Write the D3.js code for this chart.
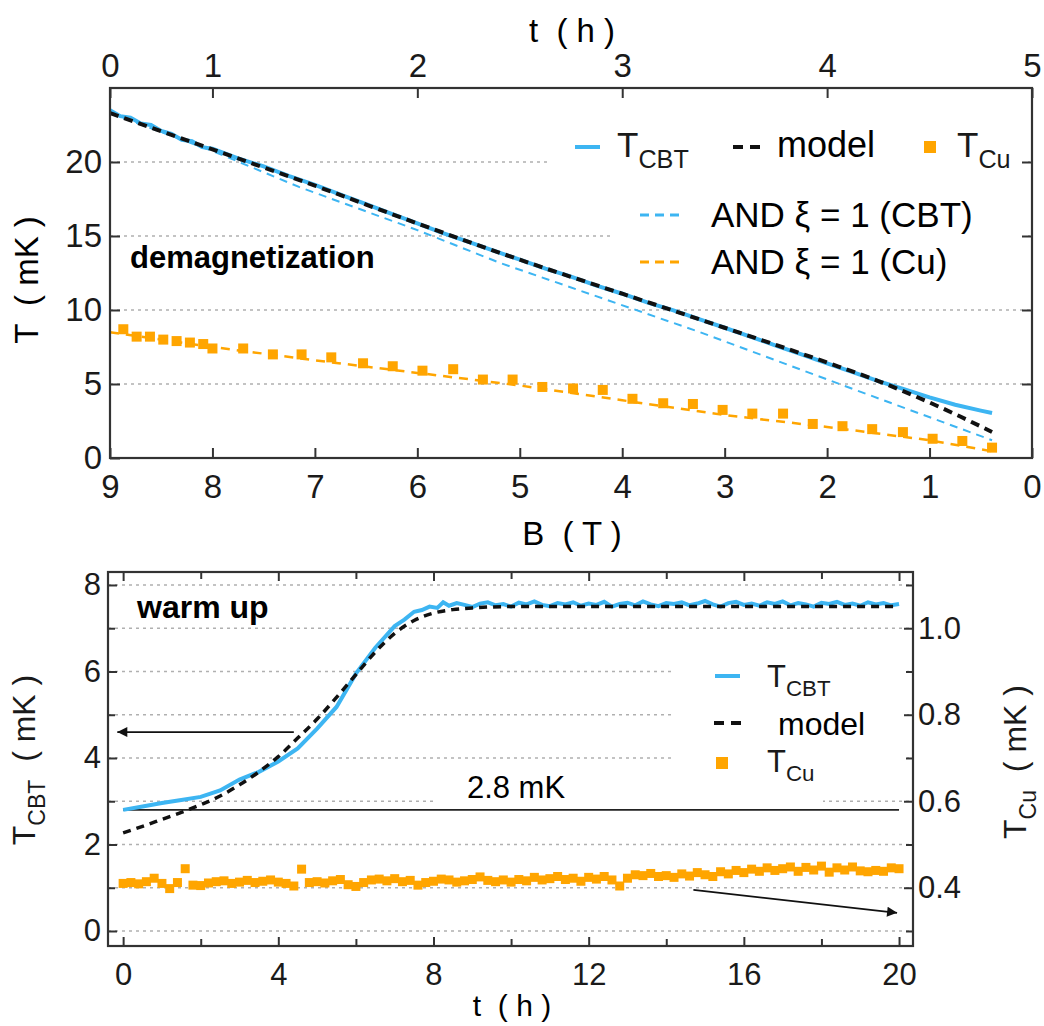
<!DOCTYPE html>
<meta charset="utf-8">
<style>
body { margin: 0; background: #fff; }
svg { font-family: "Liberation Sans", Arial, sans-serif; }
.grid { stroke: #b0b0b0; stroke-width: 1.6; stroke-dasharray: 3,4; }
.axis line { stroke: #333; stroke-width: 2; }
.axis text { fill: #1a1a1a; font-family: "Liberation Sans", Arial, sans-serif; }
.frame { fill: none; stroke: #333; stroke-width: 2.2; }
</style>
<body>
<script src="https://cdn.jsdelivr.net/npm/d3@7"></script>
<script>
//------------------------ DATA: demagnetization ------------------------//
// field ramp: hours -> field (T)
const rampHours = [0, 1, 5];
const rampField = [9, 8, 0];
const hourTicks = [0, 1, 2, 3, 4, 5];
const fieldTicks = [9, 8, 7, 6, 5, 4, 3, 2, 1, 0];
const tempTicks = [0, 5, 10, 15, 20];

const cbtField = [9.0, 8.9, 8.8, 8.7, 8.6, 8.5, 8.4, 8.3, 8.2, 8.1, 8.0, 7.75, 7.5, 7.25, 7.0, 6.75, 6.5, 6.25, 6.0, 5.75, 5.5, 5.25, 5.0, 4.75, 4.5, 4.25, 4.0, 3.75, 3.5, 3.25, 3.0, 2.75, 2.5, 2.25, 2.0, 1.75, 1.5, 1.25, 1.0, 0.75, 0.5, 0.39];
const cbtTemp  = [23.5, 23.1, 23.0, 22.6, 22.5, 22.1, 21.9, 21.5, 21.4, 21.0, 20.9, 20.25, 19.7, 19.05, 18.45, 17.8, 17.15, 16.5, 15.85, 15.2, 14.6, 14.0, 13.4, 12.8, 12.25, 11.65, 11.1, 10.5, 9.98, 9.38, 8.8, 8.2, 7.6, 7.0, 6.4, 5.8, 5.2, 4.65, 4.1, 3.6, 3.2, 3.04];

const modelField = [9, 8, 7, 6, 5, 4, 3, 2, 1.5, 1.0, 0.7, 0.39];
const modelTemp  = [23.3, 20.85, 18.4, 15.85, 13.4, 11.1, 8.8, 6.45, 5.2, 3.75, 2.8, 1.76];

const andCbtField = [9, 8, 7.15, 6, 5.2, 3.24, 1.88, 0.39];
const andCbtTemp  = [23.3, 20.75, 18.3, 15.4, 13.2, 8.5, 5.0, 1.2];

const andCuField = [9, 8, 7, 6, 5, 4, 3, 2, 1, 0.39];
const andCuTemp  = [8.5, 7.5, 6.6, 5.75, 4.9, 3.9, 2.9, 2.1, 1.2, 0.45];

const cuField = [8.87, 8.74, 8.61, 8.48, 8.35, 8.22, 8.09, 8.0, 7.70, 7.41, 7.13, 6.84, 6.53, 6.24, 5.95, 5.65, 5.36, 5.07, 4.78, 4.48, 4.19, 3.90, 3.60, 3.31, 3.02, 2.73, 2.43, 2.14, 1.85, 1.56, 1.26, 0.97, 0.68, 0.39];
const cuTemp  = [8.7, 8.2, 8.2, 8.0, 7.9, 7.8, 7.7, 7.4, 7.4, 7.0, 7.0, 6.8, 6.4, 6.2, 5.9, 6.0, 5.3, 5.3, 4.8, 4.7, 4.6, 4.0, 3.7, 3.65, 3.25, 3.0, 3.0, 2.3, 2.15, 1.95, 1.75, 1.3, 1.15, 0.7];

//------------------------ DATA: warm up ------------------------//
const warmTicks = [0, 4, 8, 12, 16, 20];
const warmMinor = [2, 6, 10, 14, 18];
const cbtAxisTicks = [0, 2, 4, 6, 8];
const cbtAxisMinor = [1, 3, 5, 7];
const cuAxisTicks = [0.4, 0.6, 0.8, 1.0];
const cuAxisMinor = [0.3, 0.5, 0.7, 0.9, 1.1];

// T_CBT rise, then plateau sampled every 0.2 h from 8.4 h to 20 h
const riseHours = [0, 0.5, 1, 1.5, 2, 2.5, 3, 3.5, 4, 4.5, 5, 5.5, 6, 6.5, 7, 7.25, 7.5, 7.7, 7.9, 8.1, 8.25];
const riseTemp  = [2.8, 2.88, 2.96, 3.03, 3.1, 3.25, 3.5, 3.68, 3.92, 4.22, 4.68, 5.18, 5.95, 6.55, 7.05, 7.2, 7.38, 7.42, 7.5, 7.47, 7.6];
const plateauHours = d3.range(8.4, 20.001, 0.2);
const plateauTemp = [
  7.52, 7.58, 7.54, 7.49, 7.57, 7.60, 7.53, 7.56, 7.50, 7.59,
  7.55, 7.62, 7.54, 7.51, 7.58, 7.55, 7.60, 7.52, 7.57, 7.54,
  7.61, 7.50, 7.56, 7.59, 7.53, 7.62, 7.55, 7.51, 7.58, 7.56,
  7.60, 7.53, 7.57, 7.63, 7.55, 7.50, 7.58, 7.61, 7.54, 7.57,
  7.52, 7.60, 7.56, 7.62, 7.53, 7.58, 7.55, 7.50, 7.59, 7.56,
  7.61, 7.54, 7.57, 7.52, 7.60, 7.55, 7.58, 7.53, 7.56];
const warmCbtHours = riseHours.concat(plateauHours);
const warmCbtTemp = riseTemp.concat(plateauTemp);

const warmModelHours = [0, 0.5, 1, 1.5, 2, 2.5, 3, 3.5, 4, 4.5, 5, 5.5, 6, 6.5, 7, 7.5, 8, 8.5, 9, 10, 12, 16, 20];
const warmModelTemp  = [2.27, 2.42, 2.58, 2.74, 2.92, 3.12, 3.38, 3.68, 4.03, 4.46, 4.9, 5.4, 5.93, 6.45, 6.88, 7.18, 7.35, 7.43, 7.47, 7.5, 7.5, 7.5, 7.5];

// T_Cu (mK, right axis), sampled every 0.2 h from 0 to 20 h
const warmCuHours = d3.range(0, 20.001, 0.2);
const warmCuTemp = [
  0.410, 0.412, 0.409, 0.414, 0.422, 0.410, 0.398, 0.412, 0.444, 0.406,
  0.405, 0.411, 0.414, 0.416, 0.410, 0.413, 0.417, 0.412, 0.415, 0.418,
  0.413, 0.410, 0.404, 0.443, 0.412, 0.414, 0.411, 0.416, 0.419, 0.407,
  0.403, 0.412, 0.418, 0.420, 0.416, 0.421, 0.414, 0.417, 0.406, 0.412,
  0.415, 0.420, 0.418, 0.413, 0.416, 0.419, 0.425, 0.417, 0.414, 0.418,
  0.413, 0.419, 0.416, 0.424, 0.418, 0.421, 0.426, 0.419, 0.422, 0.415,
  0.424, 0.420, 0.426, 0.418, 0.404, 0.422, 0.430, 0.428, 0.433, 0.426,
  0.428, 0.424, 0.432, 0.427, 0.435, 0.430, 0.426, 0.437, 0.432, 0.440,
  0.435, 0.443, 0.438, 0.446, 0.440, 0.444, 0.448, 0.438, 0.447, 0.441,
  0.450, 0.436, 0.446, 0.441, 0.448, 0.439, 0.437, 0.440, 0.438, 0.446,
  0.444];

const baseLevel = 2.8;      // mK reference line
const leftArrow = {from: [4.4, 4.6], to: [-0.15, 4.6]};        // (h, T_CBT)
const rightArrow = {from: [14.7, 0.395], to: [19.95, 0.342]};  // (h, T_Cu)

//------------------------ SVG ------------------------//
const blue = "#3db5f2", orange = "#ffa500", black = "#111";

const svg = d3.select("body").append("svg")
    .attr("width", 1044).attr("height", 1026);

const defs = svg.append("defs");
defs.append("marker").attr("id", "head")
    .attr("viewBox", "0 0 10 10").attr("refX", 10).attr("refY", 5)
    .attr("markerWidth", 14).attr("markerHeight", 10).attr("markerUnits", "userSpaceOnUse")
    .attr("orient", "auto")
  .append("path").attr("d", "M0,0L10,5L0,10Z").attr("fill", black);

// text with subscript helper
function subText(g, x, y, main, sub, size, rest, anchor) {
  const t = g.append("text").attr("x", x).attr("y", y)
      .style("font-size", size + "px").attr("fill", "#1a1a1a")
      .attr("text-anchor", anchor || "start").style("white-space", "pre");
  t.append("tspan").text(main);
  if (sub) t.append("tspan").text(sub).style("font-size", (size * 0.72) + "px").attr("dy", size * 0.3);
  if (rest) t.append("tspan").text(rest).attr("dy", sub ? -size * 0.3 : 0);
  return t;
}

function axis(gen, tx, ty, values, size, fmt, pad, fs) {
  const g = svg.append("g").attr("class", "axis")
      .attr("transform", "translate(" + tx + "," + ty + ")")
      .call(gen.tickValues(values).tickSizeInner(-size).tickSizeOuter(0)
               .tickPadding(pad).tickFormat(fmt));
  g.select(".domain").remove();
  g.selectAll("text").style("font-size", fs + "px");
  return g;
}

//======================== TOP PANEL ========================//
const P1 = {left: 110, right: 1032, top: 88, bottom: 458};
const xB = d3.scaleLinear().domain([9, 0]).range([P1.left, P1.right]);
const xHour = d3.scaleLinear().domain(rampHours).range(rampField.map(xB));
const yT = d3.scaleLinear().domain([0, 25]).range([P1.bottom, P1.top]);

// grid
svg.append("g").selectAll("line").data([5, 10, 15, 20]).join("line")
    .attr("class", "grid")
    .attr("x1", P1.left).attr("x2", P1.right)
    .attr("y1", d => yT(d)).attr("y2", d => yT(d));

// legend backgrounds
svg.append("rect").attr("x", 550).attr("y", 122).attr("width", 478).attr("height", 50).attr("fill", "#fff");
svg.append("rect").attr("x", 612).attr("y", 188).attr("width", 416).attr("height", 96).attr("fill", "#fff");

const line1 = d3.line().x(d => xB(d[0])).y(d => yT(d[1]));

svg.append("path").datum(d3.zip(andCbtField, andCbtTemp))
    .attr("d", line1).attr("fill", "none").attr("stroke", blue)
    .attr("stroke-width", 2).attr("stroke-dasharray", "8,6");
svg.append("path").datum(d3.zip(andCuField, andCuTemp))
    .attr("d", line1).attr("fill", "none").attr("stroke", orange)
    .attr("stroke-width", 2.5).attr("stroke-dasharray", "9,7");
svg.append("path").datum(d3.zip(cbtField, cbtTemp))
    .attr("d", line1).attr("fill", "none").attr("stroke", blue)
    .attr("stroke-width", 4);
svg.append("path").datum(d3.zip(modelField, modelTemp))
    .attr("d", d3.line().x(d => xB(d[0])).y(d => yT(d[1])).curve(d3.curveMonotoneX))
    .attr("fill", "none").attr("stroke", black)
    .attr("stroke-width", 4).attr("stroke-dasharray", "9,6");
svg.append("g").selectAll("rect").data(d3.zip(cuField, cuTemp)).join("rect")
    .attr("x", d => xB(d[0]) - 5).attr("y", d => yT(d[1]) - 5)
    .attr("width", 10).attr("height", 10).attr("fill", orange);

// axes
axis(d3.axisLeft(yT), P1.left, 0, tempTicks, 10, d3.format("d"), 8, 33);
axis(d3.axisRight(yT), P1.right, 0, tempTicks.slice(1), 10, "", 8, 33);
axis(d3.axisBottom(xB), 0, P1.bottom, fieldTicks, 10, d3.format("d"), 17, 33);
axis(d3.axisTop(xHour), 0, P1.top, hourTicks, 10, d3.format("d"), 11, 33);
svg.append("rect").attr("class", "frame")
    .attr("x", P1.left).attr("y", P1.top)
    .attr("width", P1.right - P1.left).attr("height", P1.bottom - P1.top);

// titles
svg.append("text").attr("x", 572).attr("y", 42).attr("text-anchor", "middle")
    .style("font-size", "33px").style("white-space", "pre").text("t  ( h )");
svg.append("text").attr("x", 572).attr("y", 545).attr("text-anchor", "middle")
    .style("font-size", "33px").style("white-space", "pre").text("B  ( T )");
svg.append("text").attr("transform", "translate(38,280) rotate(-90)").attr("text-anchor", "middle")
    .style("font-size", "33px").style("white-space", "pre").text("T  ( mK )");
svg.append("text").attr("x", 130).attr("y", 268)
    .style("font-size", "31px").style("font-weight", "bold").text("demagnetization");

// legend
const lg1 = svg.append("g");
lg1.append("line").attr("x1", 575).attr("x2", 600).attr("y1", 147).attr("y2", 147)
    .attr("stroke", blue).attr("stroke-width", 4);
subText(lg1, 617, 157, "T", "CBT", 35);
lg1.append("line").attr("x1", 733).attr("x2", 760).attr("y1", 147).attr("y2", 147)
    .attr("stroke", black).attr("stroke-width", 4).attr("stroke-dasharray", "10,7");
lg1.append("text").attr("x", 777).attr("y", 157).style("font-size", "36px").text("model");
lg1.append("rect").attr("x", 924).attr("y", 141).attr("width", 12).attr("height", 12).attr("fill", orange);
subText(lg1, 957, 157, "T", "Cu", 35);
lg1.append("line").attr("x1", 640).attr("x2", 685).attr("y1", 215).attr("y2", 215)
    .attr("stroke", blue).attr("stroke-width", 3).attr("stroke-dasharray", "9,6");
lg1.append("text").attr("x", 711).attr("y", 227).style("font-size", "35px").text("AND ξ = 1 (CBT)");
lg1.append("line").attr("x1", 640).attr("x2", 685).attr("y1", 262).attr("y2", 262)
    .attr("stroke", orange).attr("stroke-width", 3).attr("stroke-dasharray", "9,6");
lg1.append("text").attr("x", 711).attr("y", 274).style("font-size", "35px").text("AND ξ = 1 (Cu)");

//======================== BOTTOM PANEL ========================//
const P2 = {left: 108, right: 913, top: 572, bottom: 946};
const xt = d3.scaleLinear().domain([-0.39, 20.36]).range([P2.left, P2.right]);
const yL = d3.scaleLinear().domain([-0.347, 8.3]).range([P2.bottom, P2.top]);
const yR = d3.scaleLinear().domain([0.2653, 1.13]).range([P2.bottom, P2.top]);

svg.append("g").selectAll("line").data(d3.range(0, 9)).join("line")
    .attr("class", "grid")
    .attr("x1", P2.left).attr("x2", P2.right)
    .attr("y1", d => yL(d)).attr("y2", d => yL(d));

// blank areas behind legend / label
svg.append("rect").attr("x", 675).attr("y", 645).attr("width", 232).attr("height", 145).attr("fill", "#fff");
svg.append("rect").attr("x", 433).attr("y", 772).attr("width", 390).attr("height", 34).attr("fill", "#fff");

// 2.8 mK line
svg.append("line").attr("x1", xt(0)).attr("x2", xt(20))
    .attr("y1", yL(baseLevel)).attr("y2", yL(baseLevel))
    .attr("stroke", "#222").attr("stroke-width", 1.8);
svg.append("text").attr("x", 516).attr("y", 798).attr("text-anchor", "middle")
    .style("font-size", "31px").text(baseLevel + " mK");

// Cu squares
svg.append("g").selectAll("rect").data(d3.zip(warmCuHours, warmCuTemp)).join("rect")
    .attr("x", d => xt(d[0]) - 4.5).attr("y", d => yR(d[1]) - 4.5)
    .attr("width", 9).attr("height", 9).attr("fill", orange);

svg.append("path").datum(d3.zip(warmCbtHours, warmCbtTemp))
    .attr("d", d3.line().x(d => xt(d[0])).y(d => yL(d[1])))
    .attr("fill", "none").attr("stroke", blue).attr("stroke-width", 4);
svg.append("path").datum(d3.zip(warmModelHours, warmModelTemp))
    .attr("d", d3.line().x(d => xt(d[0])).y(d => yL(d[1])).curve(d3.curveMonotoneX))
    .attr("fill", "none").attr("stroke", black)
    .attr("stroke-width", 3.5).attr("stroke-dasharray", "8,6");

// arrows
svg.append("line")
    .attr("x1", xt(leftArrow.from[0])).attr("y1", yL(leftArrow.from[1]))
    .attr("x2", xt(leftArrow.to[0])).attr("y2", yL(leftArrow.to[1]))
    .attr("stroke", black).attr("stroke-width", 1.8).attr("marker-end", "url(#head)");
svg.append("line")
    .attr("x1", xt(rightArrow.from[0])).attr("y1", yR(rightArrow.from[1]))
    .attr("x2", xt(rightArrow.to[0])).attr("y2", yR(rightArrow.to[1]))
    .attr("stroke", black).attr("stroke-width", 1.8).attr("marker-end", "url(#head)");

// axes
axis(d3.axisBottom(xt), 0, P2.bottom, warmTicks, 9, d3.format("d"), 17, 31);
axis(d3.axisBottom(xt), 0, P2.bottom, warmMinor, 7, "", 17, 31);
axis(d3.axisTop(xt), 0, P2.top, warmTicks, 9, "", 10, 31);
axis(d3.axisTop(xt), 0, P2.top, warmMinor, 7, "", 10, 31);
axis(d3.axisLeft(yL), P2.left, 0, cbtAxisTicks, 9, d3.format("d"), 7, 31);
axis(d3.axisLeft(yL), P2.left, 0, cbtAxisMinor, 7, "", 7, 31);
axis(d3.axisRight(yR), P2.right, 0, cuAxisTicks, 9, d3.format(".1f"), 5, 31);
axis(d3.axisRight(yR), P2.right, 0, cuAxisMinor, 7, "", 5, 31);
svg.append("rect").attr("class", "frame")
    .attr("x", P2.left).attr("y", P2.top)
    .attr("width", P2.right - P2.left).attr("height", P2.bottom - P2.top);

// titles
svg.append("text").attr("x", 512).attr("y", 1016).attr("text-anchor", "middle")
    .style("font-size", "30px").style("white-space", "pre").text("t  ( h )");
const tl = svg.append("g").attr("transform", "translate(35,760) rotate(-90)");
subText(tl, 0, 0, "T", "CBT", 32, "  ( mK )", "middle");
const tr = svg.append("g").attr("transform", "translate(1026,762) rotate(-90)");
subText(tr, 0, 0, "T", "Cu", 32, "  ( mK )", "middle");
svg.append("text").attr("x", 137).attr("y", 618)
    .style("font-size", "32px").style("font-weight", "bold").text("warm up");

// legend
const lg2 = svg.append("g");
lg2.append("line").attr("x1", 715).attr("x2", 740).attr("y1", 676).attr("y2", 676)
    .attr("stroke", blue).attr("stroke-width", 4);
subText(lg2, 767, 687, "T", "CBT", 31);
lg2.append("line").attr("x1", 714).attr("x2", 741).attr("y1", 723).attr("y2", 723)
    .attr("stroke", black).attr("stroke-width", 4).attr("stroke-dasharray", "10,7");
lg2.append("text").attr("x", 778).attr("y", 735).style("font-size", "32px").text("model");
lg2.append("rect").attr("x", 716).attr("y", 757).attr("width", 12).attr("height", 12).attr("fill", orange);
subText(lg2, 767, 772, "T", "Cu", 31);
</script>
</body>
